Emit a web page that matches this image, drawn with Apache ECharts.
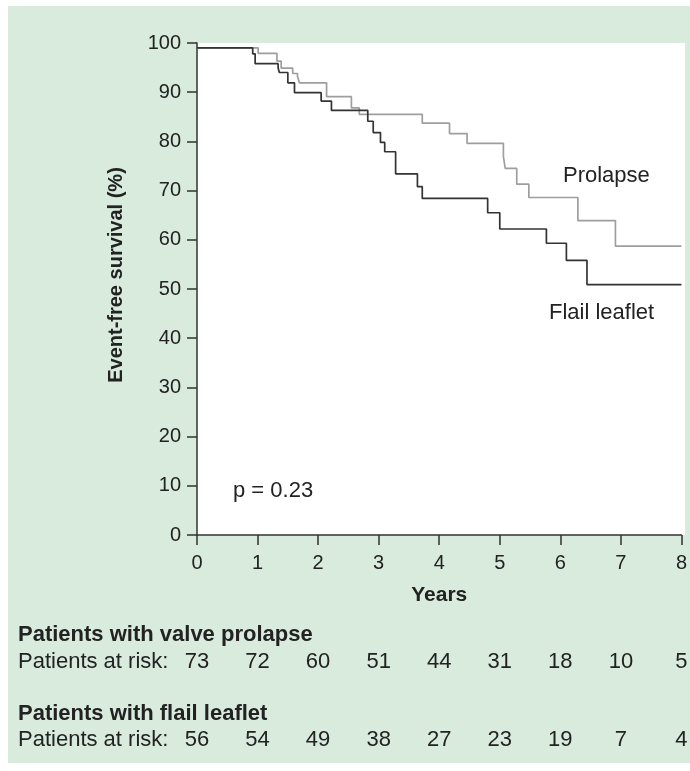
<!DOCTYPE html>
<html>
<head>
<meta charset="utf-8">
<script src="https://cdn.jsdelivr.net/npm/echarts@6/dist/echarts.min.js"></script>
<style>
html,body{margin:0;padding:0;background:#ffffff;}
#chart{width:690px;height:771px;}
</style>
</head>
<body>
<div id="chart"></div>
<script>
// Kaplan-Meier step data (years, survival %)
var flailTimes    = [0, 0.92, 0.96, 1.34, 1.36, 1.50, 1.61, 2.05, 2.22, 2.82, 2.91, 3.03, 3.10, 3.28, 3.64, 3.72, 4.80, 5.00, 5.77, 6.10, 6.44, 8];
var flailSurv     = [99, 97.8, 95.8, 94.9, 94.0, 91.9, 89.9, 88.2, 86.3, 84.1, 81.8, 79.8, 77.9, 73.4, 70.8, 68.4, 65.5, 62.2, 59.3, 55.8, 50.9, 50.9];
var prolapseTimes = [0, 1.01, 1.32, 1.39, 1.58, 1.66, 1.69, 2.14, 2.55, 2.68, 3.72, 4.17, 4.46, 5.06, 5.09, 5.28, 5.48, 6.29, 6.91, 8];
var prolapseSurv  = [99, 97.9, 96.3, 94.9, 93.8, 93.2, 91.9, 89.1, 86.8, 85.5, 83.7, 81.6, 79.6, 76.9, 74.5, 71.3, 68.6, 63.9, 58.7, 58.7];

var riskYears        = [0, 1, 2, 3, 4, 5, 6, 7, 8];
var riskProlapse     = [73, 72, 60, 51, 44, 31, 18, 10, 5];
var riskFlail        = [56, 54, 49, 38, 27, 23, 19, 7, 4];

var xTicks = [0, 1, 2, 3, 4, 5, 6, 7, 8];
var yTicks = [0, 10, 20, 30, 40, 50, 60, 70, 80, 90, 100];

function zip(a, b) { return a.map(function (v, i) { return [v, b[i]]; }); }

var FONT = '"Liberation Sans", Arial, sans-serif';
var chart = echarts.init(document.getElementById('chart'), null, {renderer: 'canvas'});

var option = {
  animation: false,
  backgroundColor: '#ffffff',
  grid: {
    left: 197, top: 43, right: 5, bottom: 236,
    show: true, backgroundColor: '#ffffff', borderWidth: 0
  },
  xAxis: {
    type: 'value', min: 0, max: 8, interval: 1,
    name: 'Years', nameLocation: 'middle', nameGap: 50,
    nameTextStyle: {fontFamily: FONT, fontSize: 21, fontWeight: 'bold', color: '#222'},
    axisLine: {show: true, onZero: false, lineStyle: {color: '#333', width: 1.5}},
    axisTick: {show: true, length: 10, lineStyle: {color: '#333', width: 1.5}},
    axisLabel: {fontFamily: FONT, fontSize: 20, color: '#222', margin: 18,
      formatter: function (v) { return xTicks.indexOf(v) >= 0 ? String(v) : ''; }},
    splitLine: {show: false}
  },
  yAxis: {
    type: 'value', min: 0, max: 100, interval: 10,
    name: 'Event-free survival (%)', nameLocation: 'middle', nameGap: 71, nameRotate: 90,
    nameTextStyle: {fontFamily: FONT, fontSize: 20, fontWeight: 'bold', color: '#222',
      padding: [0, 0, 0, 28]},
    axisLine: {show: true, onZero: false, lineStyle: {color: '#333', width: 1.5}},
    axisTick: {show: true, length: 10, lineStyle: {color: '#333', width: 1.5}},
    axisLabel: {fontFamily: FONT, fontSize: 20, color: '#222', margin: 16,
      formatter: function (v) { return yTicks.indexOf(v) >= 0 ? String(v) : ''; }},
    splitLine: {show: false}
  },
  series: [
    {
      name: 'Prolapse', type: 'line', step: 'end', symbol: 'none',
      data: zip(prolapseTimes, prolapseSurv),
      lineStyle: {color: '#9e9e9e', width: 1.7}, z: 2
    },
    {
      name: 'Flail leaflet', type: 'line', step: 'end', symbol: 'none',
      data: zip(flailTimes, flailSurv),
      lineStyle: {color: '#333333', width: 1.7}, z: 3
    }
  ]
};
chart.setOption(option);

// Build graphic: background panel, annotations, at-risk table positioned via axis scale
var g = [];
g.push({type: 'rect', z: -10, zlevel: 0, silent: true,
  shape: {x: 8, y: 6, width: 682, height: 757},
  style: {fill: '#d8ebdd'}});
g.push({type: 'rect', z: -9, silent: true,
  shape: {x: 197, y: 43, width: 488, height: 492},
  style: {fill: '#ffffff'}});

function txt(x, y, s, opts) {
  opts = opts || {};
  return {type: 'text', x: x, y: y, z: 50, silent: true,
    style: {text: s, fontFamily: FONT, fontSize: opts.size || 22,
      fontWeight: opts.bold ? 'bold' : 'normal', fill: '#222',
      textAlign: opts.align || 'left', textVerticalAlign: 'middle'}};
}
g.push(txt(563, 176, 'Prolapse'));
g.push(txt(549, 313, 'Flail leaflet'));
g.push(txt(233, 491, 'p = 0.23'));

g.push(txt(18, 635, 'Patients with valve prolapse', {bold: true}));
g.push(txt(18, 662, 'Patients at risk:'));
g.push(txt(18, 714, 'Patients with flail leaflet', {bold: true}));
g.push(txt(18, 740, 'Patients at risk:'));

riskYears.forEach(function (yr, i) {
  var px = chart.convertToPixel({xAxisIndex: 0}, yr);
  g.push(txt(px, 662, String(riskProlapse[i]), {align: 'center'}));
  g.push(txt(px, 740, String(riskFlail[i]), {align: 'center'}));
});

chart.setOption({graphic: g});
</script>
</body>
</html>
